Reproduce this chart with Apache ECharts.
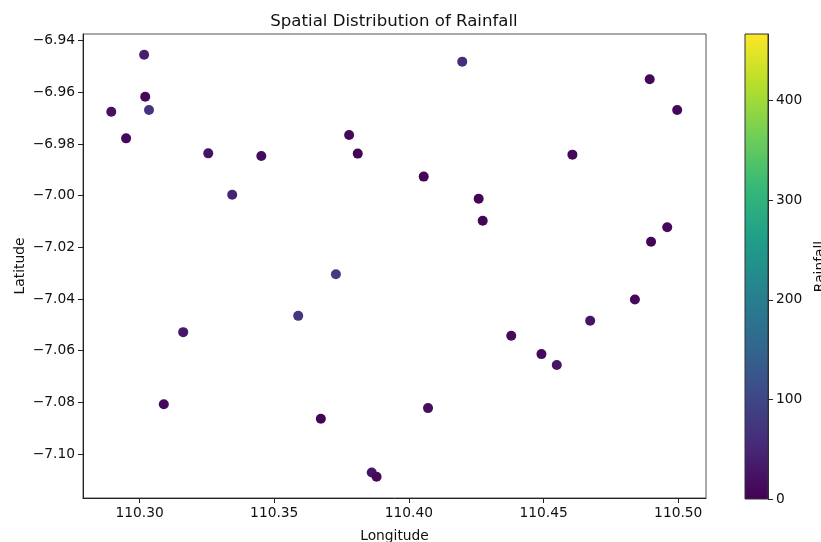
<!DOCTYPE html>
<html>
<head>
<meta charset="utf-8">
<script src="https://cdn.jsdelivr.net/npm/echarts@6/dist/echarts.min.js"></script>
<style>
  html, body { margin: 0; padding: 0; background: #fff; }
  #main { width: 821px; height: 542px; }
</style>
</head>
<body>
<div id="main"></div>
<script>
// station positions and rainfall
var lon = [110.3017, 110.3021, 110.2895, 110.3035, 110.2950, 110.3255, 110.3344, 110.3452,
  110.3778, 110.3810, 110.4198, 110.4894, 110.4996, 110.4055, 110.4259, 110.4274,
  110.4607, 110.4959, 110.3729, 110.3589, 110.3162, 110.3090, 110.3673, 110.3862,
  110.3880, 110.4899, 110.4839, 110.4673, 110.4380, 110.4492, 110.4549, 110.4071];
var lat = [-6.9454, -6.9617, -6.9675, -6.9668, -6.9778, -6.9836, -6.9996, -6.9846,
  -6.9765, -6.9837, -6.9481, -6.9549, -6.9668, -6.9926, -7.0012, -7.0097,
  -6.9841, -7.0122, -7.0304, -7.0465, -7.0528, -7.0807, -7.0863, -7.1071,
  -7.1088, -7.0178, -7.0402, -7.0484, -7.0542, -7.0613, -7.0655, -7.0822];
var rainfall = [40, 10, 20, 70, 10, 25, 45, 15,
  10, 5, 60, 8, 8, 5, 5, 5,
  10, 10, 85, 70, 30, 10, 5, 25,
  10, 5, 10, 25, 15, 10, 25, 20];

var xTicks = [110.30, 110.35, 110.40, 110.45, 110.50];
var yTicks = [-7.10, -7.08, -7.06, -7.04, -7.02, -7.00, -6.98, -6.96, -6.94];
var cbTicks = [0, 100, 200, 300, 400];
var cbMax = 467;

var viridis = ['#440154', '#482878', '#3e4989', '#31688e', '#26828e',
  '#1f9e89', '#35b779', '#6ece58', '#b5de2b', '#fde725'];

var pts = [];
for (var i = 0; i < lon.length; i++) {
  pts.push([lon[i], lat[i], rainfall[i]]);
}

// colorbar gradient, bottom (0) to top (max)
var stops = viridis.map(function (c, k) {
  return { offset: k / (viridis.length - 1), color: c };
});

var font = 'DejaVu Sans';
var tickLabel = { fontFamily: font, fontSize: 13.8, color: '#111' };
var nameStyle = { fontFamily: font, fontSize: 13.8, color: '#111' };

var myChart = echarts.init(document.getElementById('main'));
myChart.setOption({
  animation: false,
  title: {
    text: 'Spatial Distribution of Rainfall',
    left: 389, top: 8, textAlign: 'center',
    textStyle: { fontFamily: font, fontSize: 16.6, fontWeight: 'normal', color: '#111' }
  },
  grid: [
    { left: 83, top: 34, width: 623, height: 464, outerBoundsMode: 'none',
      show: true, borderColor: '#555', borderWidth: 1 },
    { left: 745, top: 34, width: 23, height: 465, outerBoundsMode: 'none',
      show: true, borderColor: '#333', borderWidth: 1, z: 10 }
  ],
  xAxis: [{
    type: 'value', gridIndex: 0, min: 110.279, max: 110.5103,
    name: 'Longitude', nameLocation: 'middle', nameGap: 31,
    nameTextStyle: nameStyle,
    splitLine: { show: false },
    axisLine: { show: true, onZero: false, lineStyle: { color: '#222' } },
    axisTick: { show: true, length: 5, customValues: xTicks, lineStyle: { color: '#222' } },
    axisLabel: Object.assign({ margin: 8, customValues: xTicks,
      formatter: function (v) { return v.toFixed(2); } }, tickLabel)
  }, {
    type: 'category', gridIndex: 1, data: ['Rainfall'], show: false
  }],
  yAxis: [{
    type: 'value', gridIndex: 0, min: -7.117, max: -6.9374,
    name: 'Latitude', nameLocation: 'middle', nameGap: 56, nameRotate: 90,
    nameMoveOverlap: false,
    nameTextStyle: nameStyle,
    splitLine: { show: false },
    axisLine: { show: true, onZero: false, lineStyle: { color: '#222' } },
    axisTick: { show: true, length: 5, customValues: yTicks, lineStyle: { color: '#222' } },
    axisLabel: Object.assign({ margin: 8, customValues: yTicks,
      formatter: function (v) { return '\u2212' + Math.abs(v).toFixed(2); } }, tickLabel)
  }, {
    type: 'value', gridIndex: 1, min: 0, max: cbMax, position: 'right',
    name: 'Rainfall', nameLocation: 'middle', nameGap: 45, nameRotate: 90,
    nameTextStyle: nameStyle,
    splitLine: { show: false },
    axisLine: { show: true, lineStyle: { color: '#333' } },
    axisTick: { show: true, length: 5, customValues: cbTicks, lineStyle: { color: '#222' } },
    axisLabel: Object.assign({ margin: 8, customValues: cbTicks }, tickLabel)
  }],
  visualMap: {
    show: false,
    type: 'continuous', min: 0, max: cbMax, dimension: 2, seriesIndex: 0,
    inRange: { color: viridis }
  },
  series: [{
    type: 'scatter', xAxisIndex: 0, yAxisIndex: 0,
    symbolSize: 10,
    itemStyle: { opacity: 1 },
    data: pts
  }, {
    type: 'bar', xAxisIndex: 1, yAxisIndex: 1,
    barWidth: '100%', silent: true,
    itemStyle: {
      color: new echarts.graphic.LinearGradient(0, 1, 0, 0, stops)
    },
    data: [cbMax]
  }]
});
</script>
</body>
</html>
